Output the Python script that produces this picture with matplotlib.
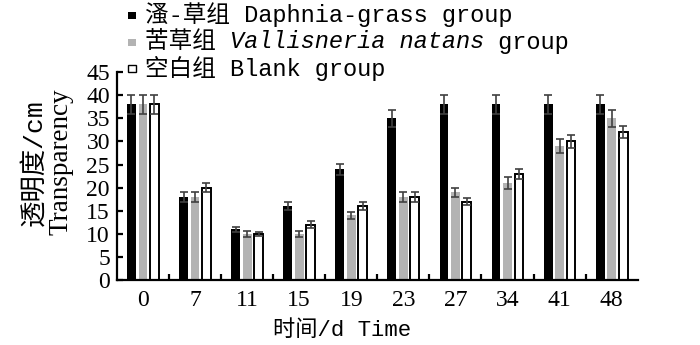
import numpy as np
import matplotlib
matplotlib.use("Agg")
import matplotlib.pyplot as plt
from matplotlib.patches import Rectangle
from matplotlib.text import Annotation

days = ["0", "7", "11", "15", "19", "23", "27", "34", "41", "48"]

daphnia = [38, 18, 11, 16, 24, 35, 38, 38, 38, 38]
daphnia_err = [2.0, 1.1, 0.5, 0.8, 1.2, 1.8, 2.0, 2.0, 2.0, 2.0]
vallis = [38, 18, 10, 10, 14, 18, 19, 21, 29, 35]
vallis_err = [2.0, 1.1, 0.6, 0.6, 0.8, 1.0, 1.0, 1.3, 1.6, 1.8]
blank = [38, 20, 10, 12, 16, 18, 17, 23, 30, 32]
blank_err = [2.0, 1.0, 0.5, 0.7, 0.8, 1.0, 0.8, 1.1, 1.4, 1.3]

CJK_MONO = ["Liberation Mono", "Noto Sans CJK SC"]
SERIF = "Liberation Serif"
FS = 16


def main():
    fig = plt.figure(figsize=(7.0, 3.45), dpi=100)
    ax = fig.add_axes([0.167, 0.188, 0.744, 0.603])

    x = np.arange(len(days))
    off = 0.22
    w = 0.17
    ekw = dict(ecolor="#404040", elinewidth=1.2, capsize=3, capthick=1.2)

    ax.bar(x - off, daphnia, w, color="black", yerr=daphnia_err,
           error_kw=ekw, zorder=2)
    ax.bar(x, vallis, w, color="#b3b3b3", yerr=vallis_err,
           error_kw=ekw, zorder=2)
    ax.bar(x + off, blank, w, color="white", edgecolor="black",
           linewidth=1.4, yerr=blank_err, error_kw=ekw, zorder=2)

    ax.set_xlim(-0.5, len(days) - 0.5)
    ax.set_ylim(0, 45)
    ax.set_yticks(np.arange(0, 46, 5))
    ax.set_xticks(x)
    ax.set_xticklabels(days)
    ax.set_xticks(np.arange(0.5, len(days) - 0.5, 1), minor=True)

    for s in ["top", "right"]:
        ax.spines[s].set_visible(False)
    for s in ["left", "bottom"]:
        ax.spines[s].set_linewidth(1.6)

    ax.tick_params(axis="x", which="major", length=0, pad=7)
    ax.tick_params(axis="x", which="minor", direction="in", length=4,
                   width=1.6)
    ax.tick_params(axis="y", direction="in", length=4, width=1.6, pad=5)
    for lab in ax.get_xticklabels() + ax.get_yticklabels():
        lab.set_fontfamily(SERIF)
        lab.set_fontsize(FS + 1)

    # axis titles
    fig.text(0.05, 0.53, "透明度/cm", rotation=90, ha="center",
             va="center", family=CJK_MONO, fontsize=19)
    fig.text(0.087, 0.53, "Transparency", rotation=90, ha="center",
             va="center", family=SERIF, fontsize=19.5)
    fig.text(0.488, 0.043, "时间/d Time", ha="center", va="center",
             family=CJK_MONO, fontsize=FS)

    # legend, drawn by hand so that one label can mix italic text
    rows = [
        ("black", "none", [("溞-草组 Daphnia-grass group", "normal")]),
        ("#b3b3b3", "none", [("苦草组 ", "normal"),
                             ("Vallisneria natans", "italic"),
                             (" group", "normal")]),
        ("white", "black", [("空白组 Blank group", "normal")]),
    ]
    ys = [1 - 15 / 345, 1 - 42 / 345, 1 - 68 / 345]
    for (fc, ec, parts), yy in zip(rows, ys):
        fig.patches.append(Rectangle((0.183, yy - 0.013), 0.011, 0.022,
                                     transform=fig.transFigure,
                                     facecolor=fc, edgecolor=ec,
                                     linewidth=1.0))
        first, style = parts[0]
        prev = fig.text(0.207, yy, first, va="center", ha="left",
                        family=CJK_MONO, style=style, fontsize=17)
        for txt, style in parts[1:]:
            # chain each piece onto the right edge of the one before
            prev = fig.add_artist(Annotation(
                txt, xy=(1, 0.5), xycoords=prev, va="center", ha="left",
                family=CJK_MONO, style=style, fontsize=17,
                annotation_clip=False))

    fig.savefig("out.png", dpi=100)


if __name__ == "__main__":
    main()
